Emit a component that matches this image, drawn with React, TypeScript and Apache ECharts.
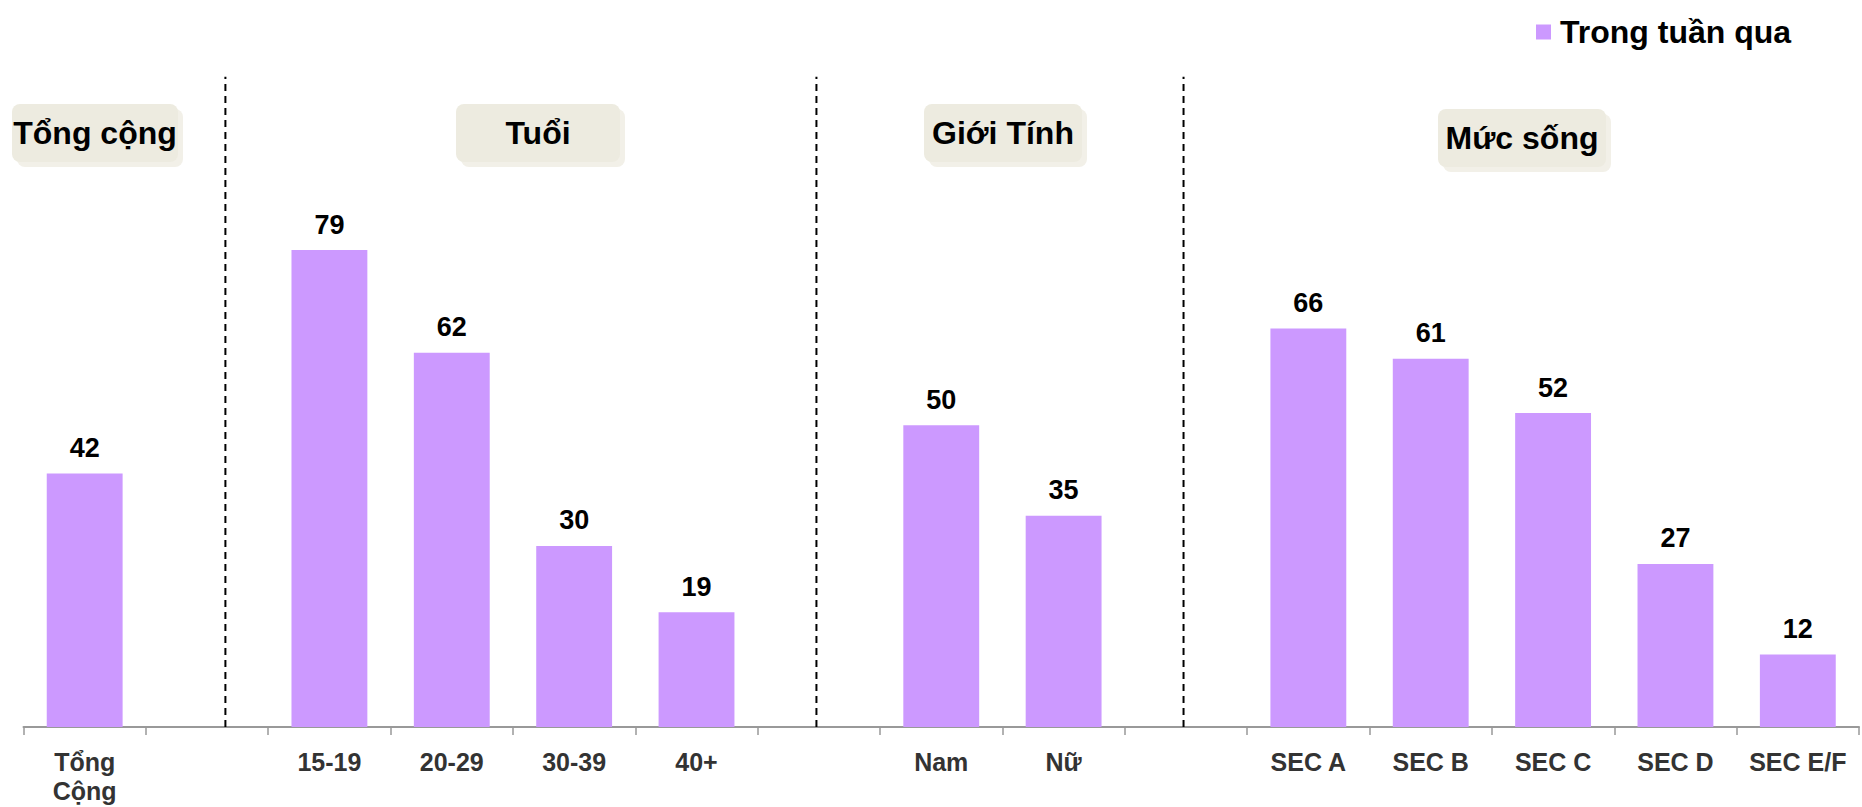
import React, { useEffect, useRef } from "react";
import * as echarts from "echarts";

const categories = [
  "Tổng\nCộng", "", "15-19", "20-29", "30-39", "40+", "",
  "Nam", "Nữ", "", "SEC A", "SEC B", "SEC C", "SEC D", "SEC E/F",
];
const values: (number | null)[] = [42, null, 79, 62, 30, 19, null, 50, 35, null, 66, 61, 52, 27, 12];
const seriesName = "Trong tuần qua";
// separator positions in category-slot units (0..15)
const separators = [1.65, 6.48, 9.48];
const groupTitles = ["Tổng cộng", "Tuổi", "Giới Tính", "Mức sống"];
const FONT = '"Liberation Sans", Arial, sans-serif';

export default function App() {
  const ref = useRef<HTMLDivElement>(null);
  useEffect(() => {
    if (!ref.current) return;
    const chart = echarts.init(ref.current, null, { renderer: "svg" });
    const boxes = [
      { x: 12, y: 104, w: 166, h: 58 },
      { x: 456, y: 104, w: 164, h: 58 },
      { x: 924, y: 104, w: 158, h: 58 },
      { x: 1438, y: 109, w: 168, h: 58 },
    ];
    const graphic: any[] = [];
    groupTitles.forEach((t, i) => {
      const b = boxes[i];
      graphic.push({
        type: "rect",
        shape: { x: b.x + 5, y: b.y + 5, width: b.w, height: b.h, r: 8 },
        style: { fill: "#F2F0E8" },
        z: 1,
      });
      graphic.push({
        type: "rect",
        shape: { x: b.x, y: b.y, width: b.w, height: b.h, r: 8 },
        style: { fill: "#EDEBE0" },
        z: 2,
      });
      graphic.push({
        type: "text",
        x: b.x + b.w / 2,
        y: b.y + b.h / 2,
        style: {
          text: t,
          fill: "#000",
          font: `bold 32px ${FONT}`,
          align: "center",
          verticalAlign: "middle",
        },
        z: 3,
      });
    });

    chart.setOption({
      animation: false,
      textStyle: { fontFamily: FONT },
      legend: {
        data: [seriesName],
        left: 1531,
        top: 11,
        icon: "rect",
        itemWidth: 15,
        itemHeight: 15,
        itemGap: 10,
        textStyle: { fontSize: 32, fontWeight: "bold", color: "#000", fontFamily: FONT, padding: [0, 0, 0, 4] },
        selectedMode: false,
      },
      grid: { left: 23.5, right: 3, top: 81, height: 646, containLabel: false },
      xAxis: [
        {
          type: "category",
          data: categories,
          axisLine: { lineStyle: { color: "#999", width: 2 } },
          axisTick: { show: true, length: 8, lineStyle: { color: "#999", width: 1.5 } },
          axisLabel: {
            interval: 0,
            fontSize: 25,
            fontWeight: "bold",
            color: "#333",
            lineHeight: 29,
            margin: 20,
            fontFamily: FONT,
          },
        },
        { type: "value", min: 0, max: 15, show: false },
      ],
      yAxis: { type: "value", min: 0, max: 107, show: false, splitLine: { show: false } },
      series: [
        {
          name: seriesName,
          type: "bar",
          data: values,
          barCategoryGap: "38%",
          itemStyle: { color: "#CC99FF" },
          label: {
            show: true,
            position: "top",
            distance: 12,
            fontSize: 27,
            fontWeight: "bold",
            color: "#000",
            fontFamily: FONT,
          },
          z: 2,
        },
        ...separators.map((s) => ({
          type: "line",
          xAxisIndex: 1,
          data: [[s, 0], [s, 107.7]],
          clip: false,
          symbol: "none",
          silent: true,
          lineStyle: { type: [7, 5], color: "#000", width: 2 },
          z: 3,
        })),
      ],
      graphic,
    });
    return () => chart.dispose();
  }, []);
  return (
    <div
      ref={ref}
      style={{ position: "fixed", left: 0, top: 0, width: 1862, height: 807, background: "#fff" }}
    />
  );
}
